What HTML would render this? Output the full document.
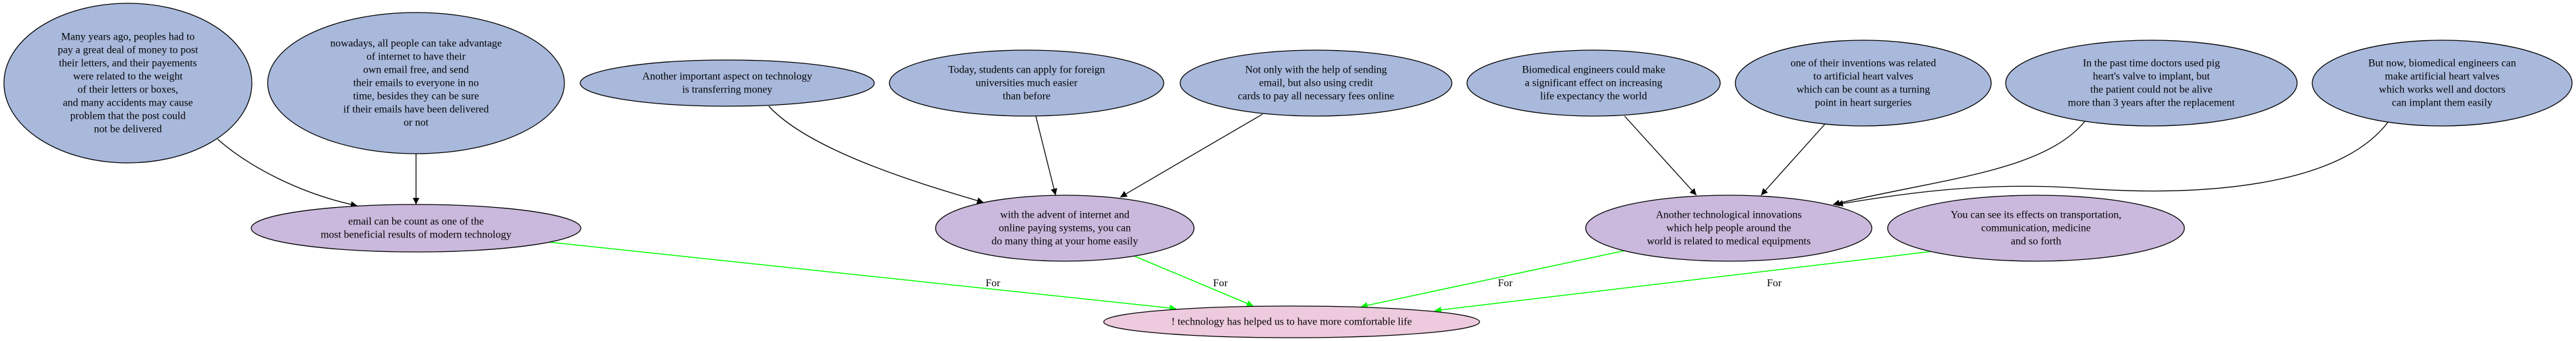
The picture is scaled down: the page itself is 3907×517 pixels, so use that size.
<!DOCTYPE html>
<html><head><meta charset="utf-8"><style>
html,body{margin:0;padding:0;background:#fff;}
svg{display:block;}
text{font-family:"Liberation Serif",serif;font-size:16px;fill:#000;}
</style></head><body>
<svg width="3907" height="517" viewBox="0 0 3907 517" xmlns="http://www.w3.org/2000/svg">
<defs>
<marker id="ab" viewBox="0 0 10 10" refX="10" refY="5" markerWidth="12" markerHeight="10" markerUnits="userSpaceOnUse" orient="auto"><path d="M0,0L10,5L0,10z" fill="#000"/></marker>
<marker id="ag" viewBox="0 0 10 10" refX="10" refY="5" markerWidth="12" markerHeight="10" markerUnits="userSpaceOnUse" orient="auto"><path d="M0,0L10,5L0,10z" fill="#00ff00"/></marker>
</defs>
<g fill="none" stroke="#000" stroke-width="1.3" marker-end="url(#ab)">
<path d="M330,211 C380,255 460,295 542,312"/>
<path d="M631,232 L631,310"/>
<path d="M1166,161 C1230,230 1400,280 1492,307"/>
<path d="M1571,176 L1601,296"/>
<path d="M1915,173 L1699,299"/>
<path d="M2464,176 L2573,296"/>
<path d="M2768,188 L2671,296"/>
<path d="M3163,183 C3100,260 2950,270 2780,310"/>
<path d="M3622,185 C3550,280 3350,300 3150,285 C3000,275 2880,295 2785,310"/>
</g>
<g fill="none" stroke="#00ff00" stroke-width="1.5" marker-end="url(#ag)">
<path d="M832,367 L1784,468"/>
<path d="M1720,388 L1901,464"/>
<path d="M2464,380 L2064,465"/>
<path d="M2931,381 L2176,471"/>
</g>
<g text-anchor="middle">
<text x="1506" y="434">For</text>
<text x="1851" y="434">For</text>
<text x="2283" y="434">For</text>
<text x="2691" y="434">For</text>
</g>
<g stroke="#000" stroke-width="1.3">
<ellipse cx="194" cy="126" rx="188" ry="121" fill="#a9b9dc"/>
<ellipse cx="631" cy="126" rx="225" ry="107" fill="#a9b9dc"/>
<ellipse cx="1103" cy="126" rx="223" ry="35" fill="#a9b9dc"/>
<ellipse cx="1557" cy="126" rx="208" ry="50" fill="#a9b9dc"/>
<ellipse cx="1996" cy="126" rx="206" ry="50" fill="#a9b9dc"/>
<ellipse cx="2417" cy="126" rx="192" ry="50" fill="#a9b9dc"/>
<ellipse cx="2826" cy="126" rx="194" ry="65" fill="#a9b9dc"/>
<ellipse cx="3263" cy="126" rx="221" ry="65" fill="#a9b9dc"/>
<ellipse cx="3704" cy="126" rx="197" ry="65" fill="#a9b9dc"/>
<ellipse cx="631" cy="346" rx="250" ry="36" fill="#cab9dc"/>
<ellipse cx="1615" cy="346" rx="196" ry="50" fill="#cab9dc"/>
<ellipse cx="2622" cy="346" rx="217" ry="50" fill="#cab9dc"/>
<ellipse cx="3088" cy="346" rx="225" ry="50" fill="#cab9dc"/>
<ellipse cx="1959" cy="488" rx="285" ry="24" fill="#edcadd"/>
</g>
<g text-anchor="middle" dominant-baseline="central">
<text x="194" y="56">Many years ago, peoples had to</text>
<text x="194" y="76">pay a great deal of money to post</text>
<text x="194" y="96">their letters, and their payements</text>
<text x="194" y="116">were related to the weight</text>
<text x="194" y="136">of their letters or boxes,</text>
<text x="194" y="156">and many accidents may cause</text>
<text x="194" y="176">problem that the post could</text>
<text x="194" y="196">not be delivered</text>

<text x="631" y="66">nowadays, all people can take advantage</text>
<text x="631" y="86">of internet to have their</text>
<text x="631" y="106">own email free, and send</text>
<text x="631" y="126">their emails to everyone in no</text>
<text x="631" y="146">time, besides they can be sure</text>
<text x="631" y="166">if their emails have been delivered</text>
<text x="631" y="186">or not</text>

<text x="1103" y="116">Another important aspect on technology</text>
<text x="1103" y="136">is transferring money</text>

<text x="1557" y="106">Today, students can apply for foreign</text>
<text x="1557" y="126">universities much easier</text>
<text x="1557" y="146">than before</text>

<text x="1996" y="106">Not only with the help of sending</text>
<text x="1996" y="126">email, but also using credit</text>
<text x="1996" y="146">cards to pay all necessary fees online</text>

<text x="2417" y="106">Biomedical engineers could make</text>
<text x="2417" y="126">a significant effect on increasing</text>
<text x="2417" y="146">life expectancy the world</text>

<text x="2826" y="96">one of their inventions was related</text>
<text x="2826" y="116">to artificial heart valves</text>
<text x="2826" y="136">which can be count as a turning</text>
<text x="2826" y="156">point in heart surgeries</text>

<text x="3263" y="96">In the past time doctors used pig</text>
<text x="3263" y="116">heart's valve to implant, but</text>
<text x="3263" y="136">the patient could not be alive</text>
<text x="3263" y="156">more than 3 years after the replacement</text>

<text x="3704" y="96">But now, biomedical engineers can</text>
<text x="3704" y="116">make artificial heart valves</text>
<text x="3704" y="136">which works well and doctors</text>
<text x="3704" y="156">can implant them easily</text>

<text x="631" y="336">email can be count as one of the</text>
<text x="631" y="356">most beneficial results of modern technology</text>

<text x="1615" y="326">with the advent of internet and</text>
<text x="1615" y="346">online paying systems, you can</text>
<text x="1615" y="366">do many thing at your home easily</text>

<text x="2622" y="326">Another technological innovations</text>
<text x="2622" y="346">which help people around the</text>
<text x="2622" y="366">world is related to medical equipments</text>

<text x="3088" y="326">You can see its effects on transportation,</text>
<text x="3088" y="346">communication, medicine</text>
<text x="3088" y="366">and so forth</text>

<text x="1959" y="488">! technology has helped us to have more comfortable life</text>
</g>
</svg>
</body></html>
